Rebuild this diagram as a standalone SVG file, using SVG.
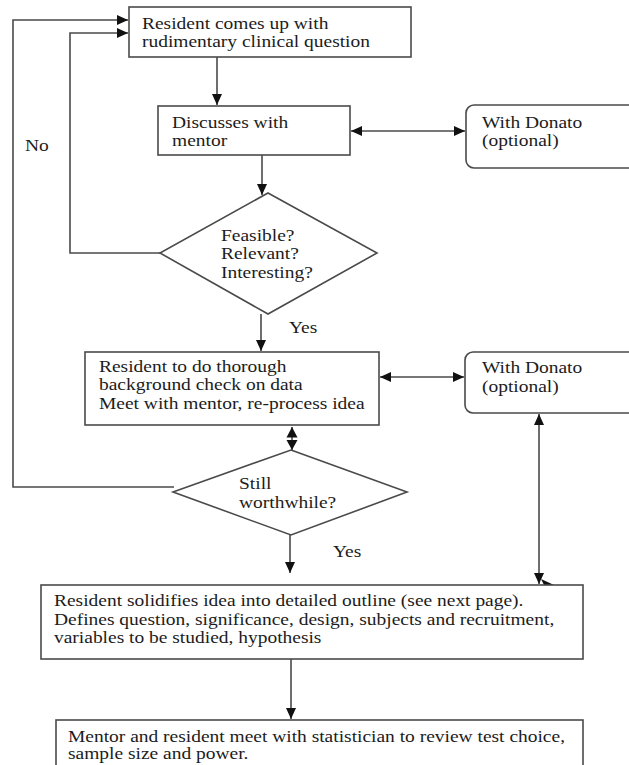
<svg xmlns="http://www.w3.org/2000/svg" width="629" height="765" viewBox="0 0 629 765">
<defs>
<style>
.box{fill:#fff;stroke:#4a4a4a;stroke-width:1.6}
.ln{fill:none;stroke:#4a4a4a;stroke-width:1.6}
.t{font-family:"Liberation Serif","Times New Roman",serif;font-size:16.5px;fill:#1c1c1c}
.ah{fill:#111}
</style>
<marker id="arr" markerUnits="userSpaceOnUse" markerWidth="12" markerHeight="12" viewBox="0 0 12 12" refX="11" refY="6" orient="auto-start-reverse">
<path d="M0,1 L11,6 L0,11 Z" class="ah"/>
</marker>
</defs>
<rect width="629" height="765" fill="#fff"/>

<g id="connectors">
<line class="ln" x1="217" y1="57" x2="217" y2="105" marker-end="url(#arr)"/>
<line class="ln" x1="351" y1="131" x2="465" y2="131" marker-start="url(#arr)" marker-end="url(#arr)"/>
<line class="ln" x1="262" y1="155" x2="262" y2="195" marker-end="url(#arr)"/>
<path class="ln" d="M160,253 H70 V33 H128" marker-end="url(#arr)"/>
<path class="ln" d="M174,487 H13 V20 H128" marker-end="url(#arr)"/>
<line class="ln" x1="261" y1="314" x2="261" y2="351" marker-end="url(#arr)"/>
<line class="ln" x1="380" y1="377" x2="464" y2="377" marker-start="url(#arr)" marker-end="url(#arr)"/>
<line class="ln" x1="292" y1="427" x2="292" y2="450"/>
<polygon class="ah" points="292,427 297.5,437.5 286.5,437.5"/>
<polygon class="ah" points="286.5,440 297.5,440 292,450"/>
<line class="ln" x1="290" y1="535" x2="290" y2="573" marker-end="url(#arr)"/>
<line class="ln" x1="539" y1="414" x2="539" y2="584" marker-start="url(#arr)" marker-end="url(#arr)"/>
<polygon class="ah" points="541,579 554,585 547,591"/>
<line class="ln" x1="291" y1="659" x2="291" y2="719" marker-end="url(#arr)"/>
<text class="t" transform="translate(25,151) scale(1.18,1)">No</text>
<text class="t" transform="translate(289,333) scale(1.18,1)">Yes</text>
<text class="t" transform="translate(333,557) scale(1.18,1)">Yes</text>
</g>

<g id="n1">
<rect class="box" x="129" y="7" width="282" height="50"/>
<text class="t" transform="translate(142,29) scale(1.18,1)"><tspan x="0" y="0">Resident comes up with</tspan><tspan x="0" y="18">rudimentary clinical question</tspan></text>
</g>

<g id="n2">
<rect class="box" x="158" y="106" width="192" height="49"/>
<text class="t" transform="translate(172,128) scale(1.18,1)"><tspan x="0" y="0">Discusses with</tspan><tspan x="0" y="18">mentor</tspan></text>
</g>

<g id="n3">
<rect class="box" x="466" y="105" width="190" height="63" rx="8"/>
<text class="t" transform="translate(482,128) scale(1.18,1)"><tspan x="0" y="0">With Donato</tspan><tspan x="0" y="18.5">(optional)</tspan></text>
</g>

<g id="n4">
<polygon class="box" points="268,193 377,253 268,314 160,253"/>
<text class="t" transform="translate(221,241) scale(1.18,1)"><tspan x="0" y="0">Feasible?</tspan><tspan x="0" y="18.5">Relevant?</tspan><tspan x="0" y="37">Interesting?</tspan></text>
</g>

<g id="n5">
<rect class="box" x="85" y="352" width="294" height="73"/>
<text class="t" transform="translate(99,372) scale(1.18,1)"><tspan x="0" y="0">Resident to do thorough</tspan><tspan x="0" y="18.5">background check on data</tspan><tspan x="0" y="37">Meet with mentor, re-process idea</tspan></text>
</g>

<g id="n6">
<rect class="box" x="465" y="352" width="190" height="61" rx="8"/>
<text class="t" transform="translate(482,373) scale(1.18,1)"><tspan x="0" y="0">With Donato</tspan><tspan x="0" y="19">(optional)</tspan></text>
</g>

<g id="n7">
<polygon class="box" points="291,450 407,492 291,535 173,492"/>
<text class="t" transform="translate(239,489) scale(1.18,1)"><tspan x="0" y="0">Still</tspan><tspan x="0" y="19">worthwhile?</tspan></text>
</g>

<g id="n8">
<rect class="box" x="41" y="585" width="542" height="74"/>
<text class="t" transform="translate(54,606) scale(1.18,1)"><tspan x="0" y="0">Resident solidifies idea into detailed outline (see next page).</tspan><tspan x="0" y="18.7">Defines question, significance, design, subjects and recruitment,</tspan><tspan x="0" y="37.4">variables to be studied, hypothesis</tspan></text>
</g>

<g id="n9">
<rect class="box" x="56" y="720" width="527" height="70"/>
<text class="t" transform="translate(68,742) scale(1.18,1)"><tspan x="0" y="0">Mentor and resident meet with statistician to review test choice,</tspan><tspan x="0" y="17.5">sample size and power.</tspan></text>
</g>
</svg>
